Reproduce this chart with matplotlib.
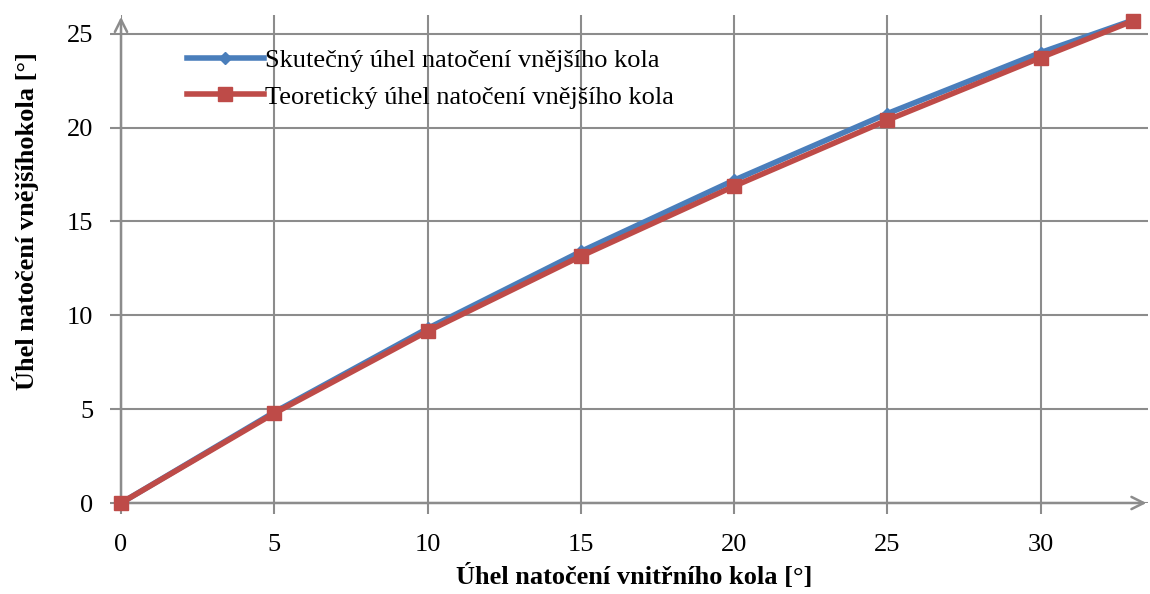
import matplotlib
matplotlib.use("Agg")
import matplotlib.pyplot as plt

x_vals = [0, 5, 10, 15, 20, 25, 30, 33]
skutecny = [0, 4.84, 9.3, 13.4, 17.2, 20.75, 24.0, 25.72]
teoreticky = [0, 4.78, 9.15, 13.15, 16.88, 20.4, 23.73, 25.68]
x_ticks = [0, 5, 10, 15, 20, 25, 30]
y_ticks = [0, 5, 10, 15, 20, 25]
label_s = "Skutečný úhel natočení vnějšího kola"
label_t = "Teoretický úhel natočení vnějšího kola"
xlabel = "Úhel natočení vnitřního kola [°]"
ylabel = "Úhel natočení vnějšíhokola [°]"

plt.rcParams['font.family'] = ['Liberation Serif', 'DejaVu Serif']
grid_c = '#8c8c8c'

fig = plt.figure(figsize=(11.5, 5.94), dpi=100)
# axes from px x 121..1148, y 15..503
ax = fig.add_axes([121 / 1150, (594 - 503) / 594, (1148 - 121) / 1150, (503 - 15) / 594])
ax.set_xlim(0, 33.5)
ax.set_ylim(0, 26.0)

for s in ax.spines.values():
    s.set_visible(False)

ax.set_xticks(x_ticks)
ax.set_yticks(y_ticks)
ax.grid(True, color=grid_c, lw=1.5)
ax.tick_params(axis='both', colors=grid_c, width=1.5, length=8, labelsize=19, labelcolor='black')
ax.tick_params(axis='x', pad=14)
ax.tick_params(axis='y', pad=12)

ax.annotate('', xy=(33.45, 0), xytext=(0, 0),
            arrowprops=dict(arrowstyle='->', color=grid_c, lw=1.8, mutation_scale=22, shrinkA=0, shrinkB=0),
            annotation_clip=False)
ax.annotate('', xy=(0, 25.9), xytext=(0, 0),
            arrowprops=dict(arrowstyle='->', color=grid_c, lw=1.8, mutation_scale=22, shrinkA=0, shrinkB=0),
            annotation_clip=False)

ax.plot(x_vals, skutecny, color='#4a7ebb', lw=4, marker='D', ms=6, label=label_s, clip_on=False, zorder=3)
ax.plot(x_vals, teoreticky, color='#be4b48', lw=4, marker='s', ms=10, label=label_t, clip_on=False, zorder=4)

leg = ax.legend(loc='upper left', bbox_to_anchor=(0.054, 0.953), frameon=False, fontsize=19,
                handlelength=2.9, handletextpad=0.05, labelspacing=0.5, borderaxespad=0)

ax.set_xlabel(xlabel, fontsize=19, fontweight='bold', labelpad=6)
ax.set_ylabel(ylabel, fontsize=19, fontweight='bold')
ax.yaxis.set_label_coords(-0.08, 0.578)

fig.savefig('out.png', dpi=100)
